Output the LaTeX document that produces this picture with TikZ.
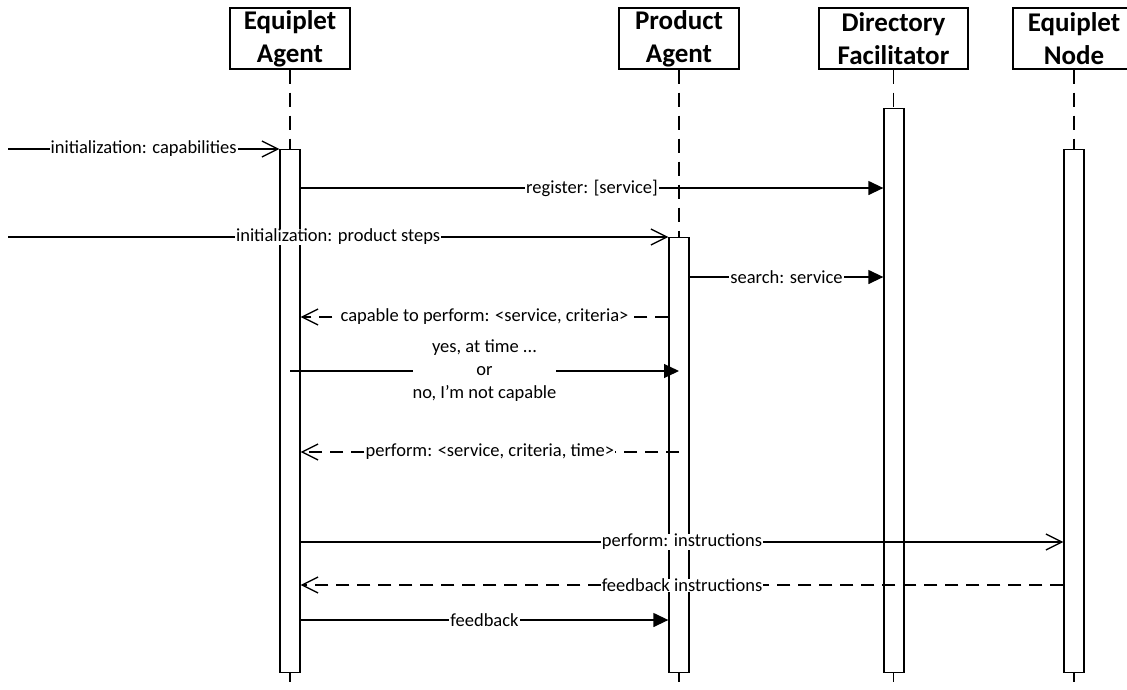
\documentclass[tikz,border=0pt]{standalone}
\usepackage{fontspec}
\setmainfont{Carlito}
\usetikzlibrary{arrows.meta}
\begin{document}
\begin{tikzpicture}[x=1pt,y=-1pt,
  line width=1.3pt,
  header/.style={draw, fill=white, align=center, inner sep=0pt,
    minimum height=61pt, font=\fontsize{27}{33}\selectfont\bfseries},
  lifeline/.style={dash pattern=on 14pt off 9pt},
  actbar/.style={draw, fill=white, minimum width=20pt, inner sep=0pt, anchor=north},
  msg/.style={},
  reply/.style={dash pattern=on 13pt off 8pt},
  openhead/.style={-{Straight Barb[length=16pt,width=16pt]}},
  fullhead/.style={-{Triangle[length=15pt,width=14pt]}},
  lbl/.style={fill=white, inner xsep=1pt, inner ysep=0pt, align=center,
    font=\fontsize{18.5}{23}\selectfont}
]
\useasboundingbox (0,0) rectangle (1127,689);
\clip (0,0) rectangle (1127,689);

% participants
\node[header, minimum width=120pt] (ea) at (290,38.5) {Equiplet\\Agent};
\node[header, minimum width=120pt] (pa) at (679,38.5) {Product\\Agent};
\node[header, minimum width=149pt] (df) at (893.5,38.5) {Directory\\Facilitator};
\node[header, minimum width=122pt] (en) at (1074,38.5) {Equiplet\\Node};

% lifelines
\foreach \p in {ea,pa,df,en}
  \draw[lifeline] (\p.south) -- (\p.south |- 0,689);

% activation bars
\node[actbar, minimum height=523pt] (eabar) at (290,149) {};
\node[actbar, minimum height=435pt] (pabar) at (679,237) {};
\node[actbar, minimum height=564pt] (dfbar) at (894,108) {};
\node[actbar, minimum height=523pt] (enbar) at (1074,149) {};

% incoming messages
\coordinate (initcap) at (8,149);
\coordinate (initsteps) at (8,237);
\draw[msg, openhead] (initcap) -- (eabar.west |- initcap)
  node[lbl, midway] {initialization: capabilities};
\draw[msg, openhead] (initsteps) -- (pabar.west |- initsteps)
  node[lbl, midway] {initialization: product steps};

% interaction
\draw[msg, fullhead] (eabar.east |- 0,188) -- (dfbar.west |- 0,188)
  node[lbl, midway] {register: [service]};
\draw[msg, fullhead] (pabar.east |- 0,277) -- (dfbar.west |- 0,277)
  node[lbl, midway] {search: service};
\draw[reply, openhead] (pabar.west |- 0,317) -- (eabar.east |- 0,317)
  node[lbl, midway] {capable to perform: <service, criteria>};
\draw[msg, fullhead] (eabar.center |- 0,371) -- (pabar.center |- 0,371)
  node[lbl, midway, inner xsep=0pt] {yes, at time ...\\or\\no, I'm not capable};
\draw[reply, openhead] (pabar.center |- 0,452) -- (eabar.east |- 0,452)
  node[lbl, midway] {perform: <service, criteria, time>};
\draw[msg, openhead] (eabar.east |- 0,542) -- (enbar.west |- 0,542)
  node[lbl, midway] {perform: instructions};
\draw[reply, openhead] (enbar.west |- 0,585) -- (eabar.east |- 0,585)
  node[lbl, midway] {feedback instructions};
\draw[msg, fullhead] (eabar.east |- 0,620) -- (pabar.west |- 0,620)
  node[lbl, midway] {feedback};
\end{tikzpicture}
\end{document}
